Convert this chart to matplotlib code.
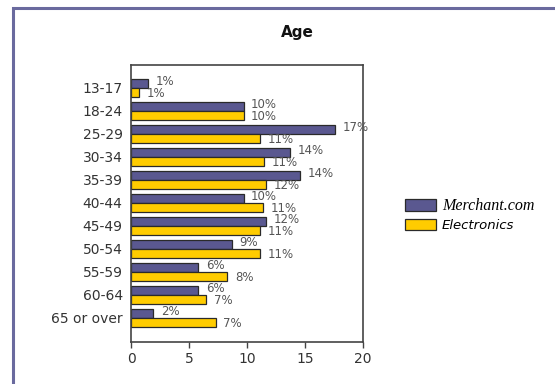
import matplotlib
matplotlib.use("Agg")
import matplotlib.pyplot as plt
import numpy as np
from matplotlib.patches import Rectangle, Patch

ages = ["13-17", "18-24", "25-29", "30-34", "35-39", "40-44",
        "45-49", "50-54", "55-59", "60-64", "65 or over"]
merchant = [1.5, 9.7, 17.6, 13.7, 14.6, 9.7, 11.6, 8.7, 5.8, 5.8, 1.9]
electronics = [0.7, 9.7, 11.1, 11.5, 11.6, 11.4, 11.1, 11.1, 8.3, 6.5, 7.3]
merchant_lbl = ["1%", "10%", "17%", "14%", "14%", "10%", "12%", "9%", "6%", "6%", "2%"]
electronics_lbl = ["1%", "10%", "11%", "11%", "12%", "11%", "11%", "11%", "8%", "7%", "7%"]

W, H = 555, 384
fig = plt.figure(figsize=(W / 100, H / 100), dpi=100)
ax = fig.add_axes([131 / W, 1 - 342 / H, (363 - 131) / W, (342 - 65) / H])

y = np.arange(len(ages))
bh = 0.38
c_m = "#5a5890"
c_e = "#ffcc00"
ax.barh(y - bh / 2, merchant, height=bh, color=c_m, edgecolor="#2a2a2a", linewidth=0.9)
ax.barh(y + bh / 2, electronics, height=bh, color=c_e, edgecolor="#2a2a2a", linewidth=0.9)

# value labels just right of each bar
for i in range(len(ages)):
    ax.annotate(merchant_lbl[i], (merchant[i], y[i] - bh / 2), xytext=(5.5, 1.5),
                textcoords="offset points", ha="left", va="center",
                fontsize=8.5, color="#555555")
    ax.annotate(electronics_lbl[i], (electronics[i], y[i] + bh / 2), xytext=(5.5, -1),
                textcoords="offset points", ha="left", va="center",
                fontsize=8.5, color="#555555")

ax.set_xlim(0, 20)
ax.set_ylim(11.05, -1.0)
ax.set_xticks([0, 5, 10, 15, 20])
ax.set_yticks(y)
ax.set_yticklabels(ages)
ax.tick_params(axis="y", length=0, pad=6, labelsize=10, labelcolor="#333333")
ax.tick_params(axis="x", length=4, width=1, color="#444444", labelsize=10,
               labelcolor="#333333", pad=3)
for s in ax.spines.values():
    s.set_color("#444444")
    s.set_linewidth(1.2)

fig.text(297 / W, 1 - 32 / H, "Age", ha="center", va="center",
         fontsize=11, fontweight="bold", color="#111111")

handles = [Patch(facecolor=c_m, edgecolor="#2a2a2a", linewidth=0.9),
           Patch(facecolor=c_e, edgecolor="#2a2a2a", linewidth=0.9)]
leg = fig.legend(handles, ["Merchant.com", "Electronics"], loc="upper left",
                 bbox_to_anchor=(405 / W, 1 - 198 / H), frameon=False,
                 handlelength=2.2, handleheight=0.9, handletextpad=0.45,
                 labelspacing=0.35, borderaxespad=0, borderpad=0)
leg.get_texts()[0].set_fontfamily("Liberation Serif")
leg.get_texts()[0].set_fontstyle("italic")
leg.get_texts()[0].set_fontsize(11.5)
leg.get_texts()[1].set_fontstyle("italic")
leg.get_texts()[1].set_fontsize(9.5)

# outer frame
fig.patches.append(Rectangle((13 / W, -0.2), 1.2, 1.2 - 8 / H, transform=fig.transFigure,
                             fill=False, edgecolor="#6a6a9e", linewidth=2.2))

fig.savefig("out.png", dpi=100)
